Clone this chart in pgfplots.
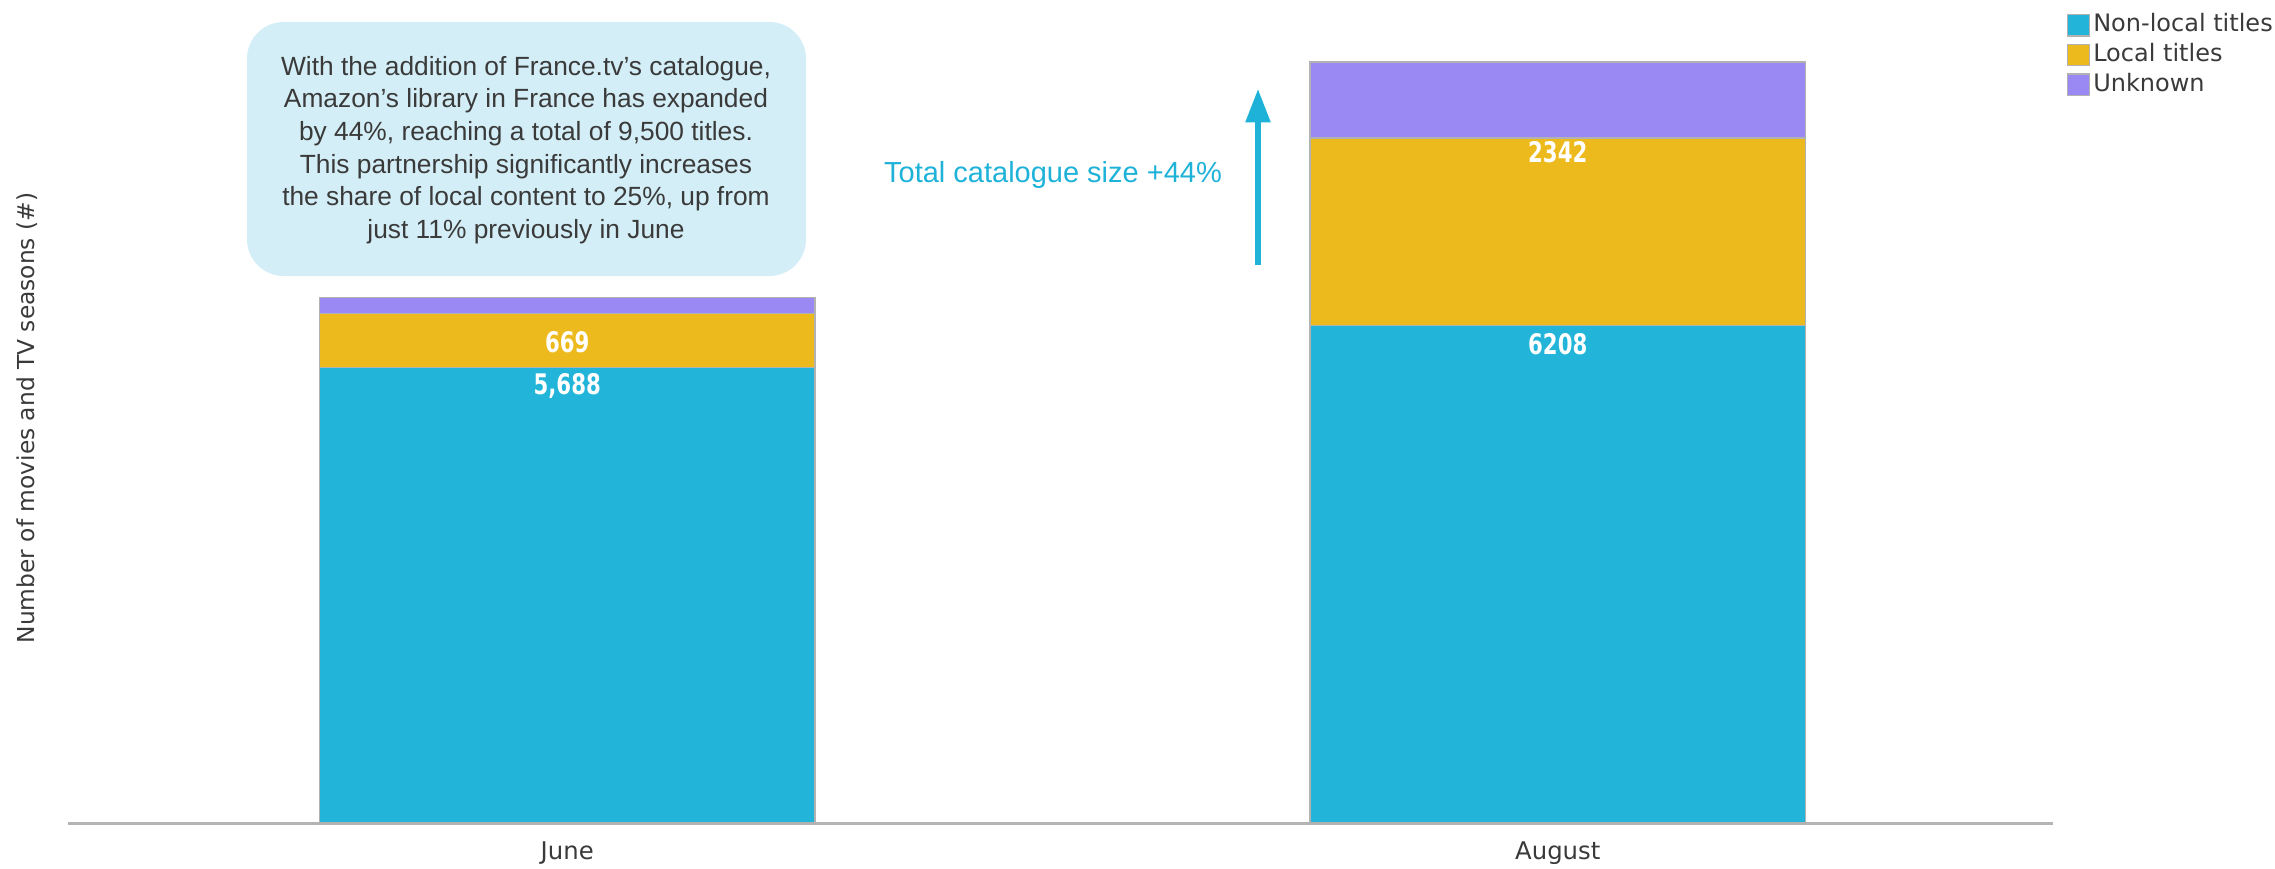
\documentclass[border=0pt]{standalone}
\usepackage{pgfplots}
\pgfplotsset{compat=1.18}
\usepackage{fontspec}
\setmainfont{Liberation Sans}
\newfontfamily\dejavu{DejaVu Sans}
\usetikzlibrary{arrows.meta}
\definecolor{nonlocal}{RGB}{34,181,217}
\definecolor{localc}{RGB}{237,186,30}
\definecolor{unknownc}{RGB}{154,137,243}
\definecolor{boxfill}{RGB}{211,238,246}
\definecolor{anncyan}{RGB}{30,178,216}
\definecolor{txtgray}{RGB}{58,58,58}
\definecolor{axgray}{RGB}{180,180,180}
\begin{document}
\begin{tikzpicture}
\useasboundingbox (0pt,0pt) rectangle (682.5pt,260.4pt);
% annotation box
\fill[boxfill, rounded corners=11pt] (74.1pt,177.6pt) rectangle (241.8pt,253.8pt);
\node[text=txtgray, align=center, font=\fontsize{7.9}{9.8}\selectfont] at (157.8pt,215.4pt)
{With the addition of France.tv’s catalogue,\\Amazon’s library in France has expanded\\by 44\%, reaching a total of 9,500 titles.\\This partnership significantly increases\\the share of local content to 25\%, up from\\just 11\% previously in June};
\node[text=anncyan, font=\fontsize{8.7}{10}\selectfont] at (315.9pt,207.9pt) {Total catalogue size +44\%};
\draw[anncyan, line width=1.6pt, -{Triangle[length=10pt,width=7.2pt]}] (377.4pt,180.9pt) -- (377.4pt,233.7pt);
\begin{axis}[
  at={(20.4pt,13.5pt)}, anchor=south west,
  scale only axis,
  width=595.5pt, height=240.3pt,
  ybar stacked, bar width=0.5,
  xmin=-0.504, xmax=1.5, ymin=0, ymax=10000,
  axis x line*=bottom, axis y line*=left,
  x axis line style={draw=axgray, line width=0.9pt},
  y axis line style={draw=none},
  xtick={0,1}, xticklabels={June,August},
  major tick length=0pt,
  ytick=\empty,
  xticklabel style={anchor=center, yshift=-9pt, font=\dejavu\fontsize{7.3}{8}\selectfont, text=txtgray},
  ylabel={Number of movies and TV seasons (\#)},
  ylabel style={at={(axis description cs:-0.0207,0.5056)}, anchor=center, font=\dejavu\fontsize{7}{8}\selectfont, text=txtgray},
  legend style={at={(axis description cs:1.0065,1.015)}, anchor=north west, draw=none, fill=none,
    font=\dejavu\fontsize{7.2}{8}\selectfont, text=txtgray, inner sep=0pt,
    nodes={inner sep=1pt, text height=5.4pt, text depth=1.5pt}, row sep=0pt},
  legend cell align=left,
  legend image code/.code={\fill[#1, draw=black!30, line width=0.4pt] (0pt,-3.2pt) rectangle (6.6pt,3.2pt);},
]
\addplot[fill=nonlocal, draw=black!30, line width=0.4pt] coordinates {(0,5688) (1,6208)};
\addplot[fill=localc, draw=black!30, line width=0.4pt] coordinates {(0,669) (1,2342)};
\addplot[fill=unknownc, draw=black!30, line width=0.4pt] coordinates {(0,200) (1,950)};
\legend{Non-local titles, Local titles, Unknown}
\coordinate (l1) at (axis cs:0,5454);
\coordinate (l2) at (axis cs:0,6003);
\coordinate (l3) at (axis cs:1,5978);
\coordinate (l4) at (axis cs:1,8374);
\end{axis}
\tikzset{barlab/.style={text=white, font=\dejavu\bfseries\fontsize{8.5}{9}\selectfont}}
\node[barlab] at (l1) {\scalebox{0.75}[1]{5,688}};
\node[barlab] at (l2) {\scalebox{0.75}[1]{669}};
\node[barlab] at (l3) {\scalebox{0.75}[1]{6208}};
\node[barlab] at (l4) {\scalebox{0.75}[1]{2342}};
\end{tikzpicture}
\end{document}
